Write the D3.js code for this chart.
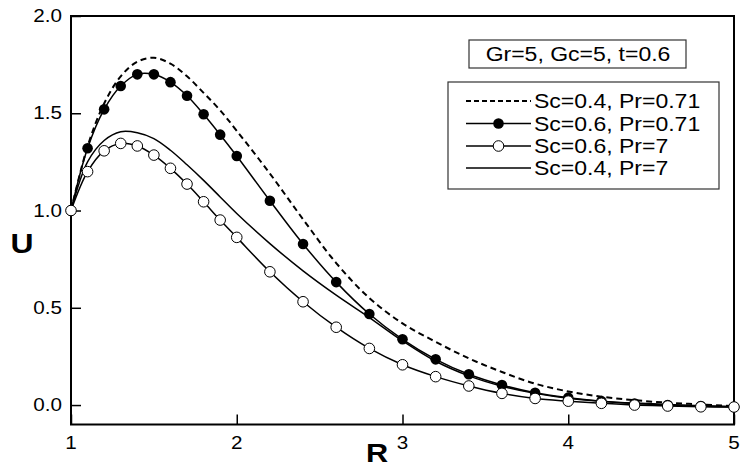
<!DOCTYPE html>
<html>
<head>
<meta charset="utf-8">
<script src="https://cdnjs.cloudflare.com/ajax/libs/d3/7.8.5/d3.min.js"></script>
<style>
  body { margin: 0; background: #fff; }
  text { font-family: "Liberation Sans", Arial, sans-serif; fill: #000; }
</style>
</head>
<body>
<div id="chart"></div>
<script>
// R values (markers every 0.1 up to 2, then every 0.2)
var rValues = [1.0, 1.1, 1.2, 1.3, 1.4, 1.5, 1.6, 1.7, 1.8, 1.9, 2.0,
               2.2, 2.4, 2.6, 2.8, 3.0, 3.2, 3.4, 3.6, 3.8, 4.0, 4.2, 4.4, 4.6, 4.8, 5.0];

// Sc=0.4, Pr=0.71 (dashed)
var uSc04Pr071 = [1.0, 1.33, 1.55, 1.69, 1.765, 1.785, 1.755, 1.69, 1.605, 1.515, 1.41,
                  1.19, 0.955, 0.73, 0.55, 0.42, 0.325, 0.24, 0.17, 0.11, 0.07, 0.043, 0.025, 0.012, 0.003, -0.005];
// Sc=0.6, Pr=0.71 (filled circles)
var uSc06Pr071 = [1.0, 1.32, 1.52, 1.64, 1.70, 1.70, 1.66, 1.59, 1.495, 1.39, 1.28,
                  1.05, 0.828, 0.632, 0.468, 0.338, 0.235, 0.158, 0.103, 0.063, 0.038, 0.02, 0.008, 0.0, -0.005, -0.01];
// Sc=0.6, Pr=7 (open circles)
var uSc06Pr7 = [1.0, 1.20, 1.307, 1.345, 1.332, 1.285, 1.217, 1.136, 1.045, 0.951, 0.862,
                0.685, 0.531, 0.40, 0.291, 0.207, 0.146, 0.098, 0.06, 0.034, 0.02, 0.009, 0.0, -0.005, -0.009, -0.01];
// Sc=0.4, Pr=7 (solid)
var uSc04Pr7 = [1.0, 1.25, 1.36, 1.405, 1.40, 1.37, 1.31, 1.235, 1.155, 1.07, 0.985,
                0.83, 0.69, 0.565, 0.45, 0.33, 0.225, 0.15, 0.097, 0.06, 0.035, 0.02, 0.01, 0.003, -0.003, -0.008];

var xTicks = [1, 2, 3, 4, 5];
var yTicks = [0.0, 0.5, 1.0, 1.5, 2.0];
var legendLabels = ["Sc=0.4, Pr=0.71", "Sc=0.6, Pr=0.71", "Sc=0.6, Pr=7", "Sc=0.4, Pr=7"];
var paramLabel = "Gr=5, Gc=5, t=0.6";

function draw() {
    var W = 741, H = 468;
    var pLeft = 71, pRight = 734, pTop = 16, pBottom = 424.5;
    var stretch = 1.18; // glyphs in the original are a bit wide

    var svg = d3.select("#chart").append("svg")
        .attr("width", W).attr("height", H);

    var x = d3.scaleLinear().domain([1, 5]).range([pLeft, pRight]);
    var y = d3.scaleLinear().domain([-0.1, 2.0]).range([pBottom, pTop]);

    // stretched text helper
    function label(g, str, px, py, size, anchor, weight) {
        return g.append("text")
            .attr("transform", "translate(" + px + "," + py + ") scale(" + stretch + ",1)")
            .attr("text-anchor", anchor || "start")
            .attr("font-size", size + "px")
            .attr("font-weight", weight || "normal")
            .text(str);
    }

    // axes with inward ticks
    var xAxis = d3.axisBottom(x).tickValues(xTicks).tickSizeInner(-10).tickSizeOuter(0).tickFormat("");
    var yAxis = d3.axisLeft(y).tickValues(yTicks).tickSizeInner(-10).tickSizeOuter(0).tickFormat("");

    svg.append("g").attr("transform", "translate(0," + pBottom + ")").call(xAxis)
        .call(function(g) { g.select(".domain").remove(); })
        .selectAll("line").attr("stroke-width", 1.5);
    svg.append("g").attr("transform", "translate(" + pLeft + ",0)").call(yAxis)
        .call(function(g) { g.select(".domain").remove(); })
        .selectAll("line").attr("stroke-width", 1.5);

    // frame
    svg.append("rect")
        .attr("x", pLeft).attr("y", pTop)
        .attr("width", pRight - pLeft).attr("height", pBottom - pTop)
        .attr("fill", "none").attr("stroke", "#000").attr("stroke-width", 2);

    // tick labels
    xTicks.forEach(function(t) { label(svg, t, x(t), 449, 17.5, "middle"); });
    yTicks.forEach(function(t) { label(svg, d3.format(".1f")(t), pLeft - 9, y(t) + 6, 17.5, "end"); });

    // axis titles
    label(svg, "R", 377, 462, 26, "middle", "bold");
    label(svg, "U", 22, 253, 27, "middle", "bold");

    var line = d3.line()
        .x(function(d, i) { return x(rValues[i]); })
        .y(function(d) { return y(d); })
        .curve(d3.curveCatmullRom.alpha(0.5));

    var plot = svg.append("g");

    plot.append("path").datum(uSc04Pr7).attr("d", line)
        .attr("fill", "none").attr("stroke", "#000").attr("stroke-width", 1.5);
    plot.append("path").datum(uSc06Pr7).attr("d", line)
        .attr("fill", "none").attr("stroke", "#000").attr("stroke-width", 1.5);
    plot.append("path").datum(uSc06Pr071).attr("d", line)
        .attr("fill", "none").attr("stroke", "#000").attr("stroke-width", 1.5);
    plot.append("path").datum(uSc04Pr071).attr("d", line)
        .attr("fill", "none").attr("stroke", "#000").attr("stroke-width", 2)
        .attr("stroke-dasharray", "6,4");

    plot.selectAll(".dotFilled").data(uSc06Pr071).enter().append("circle")
        .attr("class", "dotFilled")
        .attr("cx", function(d, i) { return x(rValues[i]); })
        .attr("cy", function(d) { return y(d); })
        .attr("r", 5.3).attr("fill", "#000");

    plot.selectAll(".dotOpen").data(uSc06Pr7).enter().append("circle")
        .attr("class", "dotOpen")
        .attr("cx", function(d, i) { return x(rValues[i]); })
        .attr("cy", function(d) { return y(d); })
        .attr("r", 5.3).attr("fill", "#fff").attr("stroke", "#000").attr("stroke-width", 1);

    // parameter box
    svg.append("rect").attr("x", 469).attr("y", 40).attr("width", 217).attr("height", 28)
        .attr("fill", "#fff").attr("stroke", "#333").attr("stroke-width", 1.2);
    label(svg, paramLabel, 578, 61, 19.5, "middle");

    // legend
    var lg = svg.append("g");
    lg.append("rect").attr("x", 448).attr("y", 82).attr("width", 271).attr("height", 107)
        .attr("fill", "#fff").attr("stroke", "#333").attr("stroke-width", 1.2);
    var rowY = [101, 123.5, 146, 168];
    legendLabels.forEach(function(name, i) {
        var ly = rowY[i];
        var ln = lg.append("line").attr("x1", 466).attr("x2", 531).attr("y1", ly).attr("y2", ly)
            .attr("stroke", "#000").attr("stroke-width", i === 0 ? 2 : 1.5);
        if (i === 0) ln.attr("stroke-dasharray", "5,3");
        if (i === 1) lg.append("circle").attr("cx", 498.5).attr("cy", ly).attr("r", 5.3).attr("fill", "#000");
        if (i === 2) lg.append("circle").attr("cx", 498.5).attr("cy", ly).attr("r", 5.3)
            .attr("fill", "#fff").attr("stroke", "#000").attr("stroke-width", 1);
        label(lg, name, 534, ly + 7, 19.5, "start");
    });
}

draw();
</script>
</body>
</html>
